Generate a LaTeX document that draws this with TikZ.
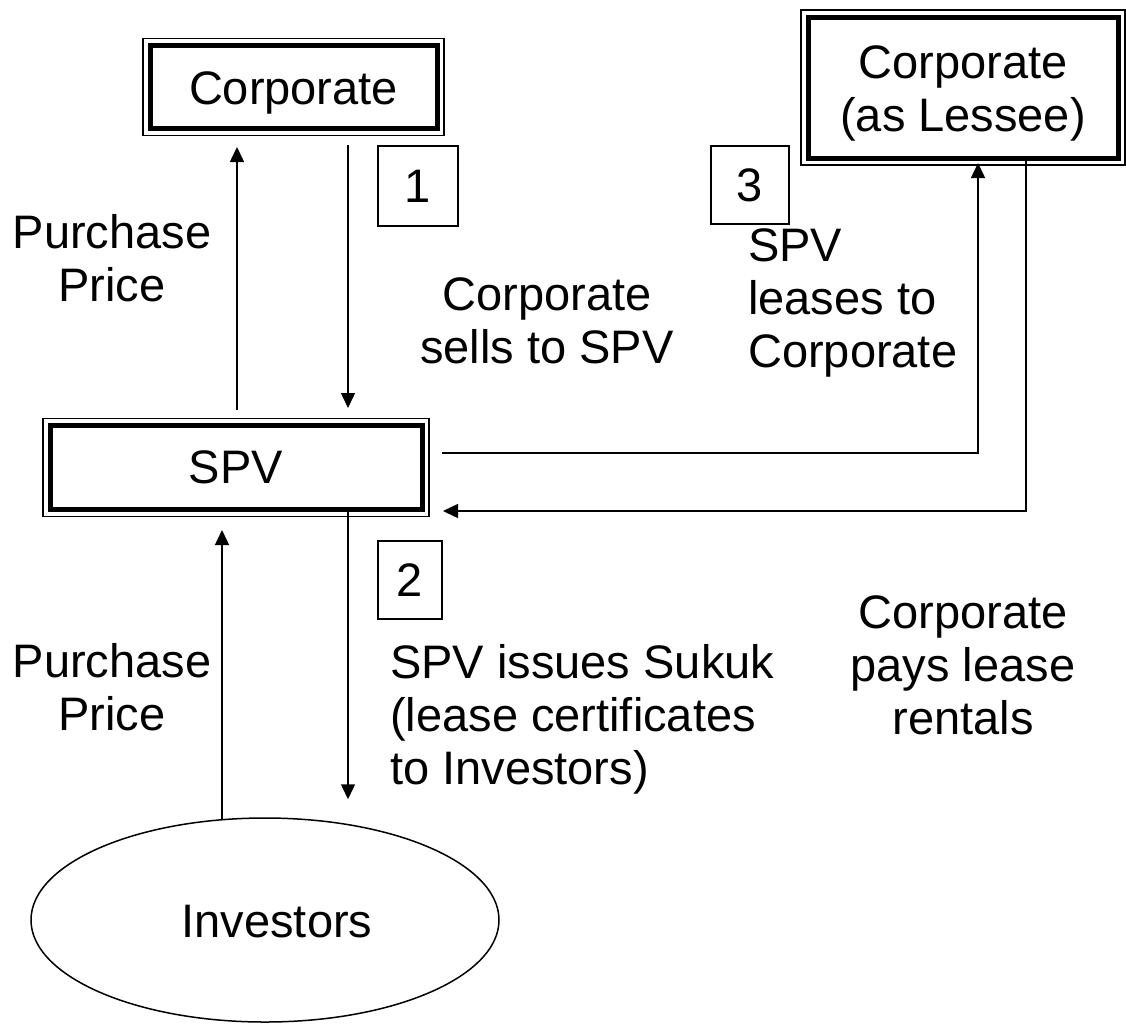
\documentclass[tikz,border=0pt]{standalone}
\usepackage{fontspec}
\setmainfont{Liberation Sans}
\usetikzlibrary{arrows.meta,shapes.geometric}

\begin{document}
\begin{tikzpicture}[x=1pt,y=1pt]

\tikzset{
  party/.style={
    draw,
    line width=5pt,
    outer sep=0pt,
    inner sep=0pt,
  },
  frame/.style={line width=1.5pt},
  stepnum/.style={
    draw,
    line width=1.5pt,
    outer sep=0pt,
    inner sep=0pt,
  },
  label/.style={align=center, inner sep=0pt},
  flow/.style={line width=1.5pt, -{Triangle[length=15pt,width=14pt]}},
}

\useasboundingbox (0,0) rectangle (1126,-1023);
\fontsize{47}{53}\selectfont

% Parties
\node[party, minimum width=287pt, minimum height=83pt] (corp) at (293.5,-87)
  {\raisebox{-6pt}[\height][\depth]{Corporate}};
\node[party, minimum width=310pt, minimum height=141pt] (lessee) at (963,-87.5)
  {\raisebox{-7pt}[\height][\depth]{\begin{tabular}{@{}c@{}}Corporate\\(as Lessee)\end{tabular}}};
\node[party, minimum width=372pt, minimum height=84pt] (spv) at (236,-467.5) {SPV};
\node[draw, ellipse, line width=1.5pt, minimum width=468pt, minimum height=204pt, inner sep=0pt] (inv) at (265,-920) {};
\node at (277,-922) {Investors};

% outer thin frames
\foreach \n in {corp,lessee,spv}
  \draw[frame] ([shift={(-7,7)}]\n.north west) rectangle ([shift={(7,-7)}]\n.south east);

% Step numbers
\node[stepnum, minimum width=80pt, minimum height=80pt] (num1) at (418,-186) {1};
\node[stepnum, minimum width=78pt, minimum height=78pt] (num3) at (750,-185) {3};
\node[stepnum, minimum width=64pt, minimum height=78pt] (num2) at (410,-580) {2};

% Labels
\node[label] (pp1) at (112,-258) {Purchase\\Price};
\node[label] (sell) at (547,-321) {Corporate\\sells to SPV};
\node[label, align=left, anchor=west] (lease) at (748,-303) {SPV\\leases to\\Corporate};
\node[label] (pays) at (963,-665) {Corporate\\pays lease\\rentals};
\node[label] (pp2) at (112,-687) {Purchase\\Price};
\node[label, align=left, anchor=west] (issue) at (390,-719) {SPV issues Sukuk\\(lease certificates\\to Investors)};

% Flows
\draw[flow] ([xshift=1pt,yshift=15.5pt]spv.north) -- ([xshift=-56.5pt,yshift=-18.5pt]corp.south);
\draw[flow] ([xshift=54.5pt,yshift=-16.5pt]corp.south) -- ([xshift=112pt,yshift=17.5pt]spv.north);
\draw[flow] ([xshift=20pt,yshift=14.5pt]spv.east) -| ([xshift=15pt,yshift=-5pt]lessee.south);
\draw[flow] ([xshift=63pt,yshift=-2pt]lessee.south) |- ([xshift=21pt,yshift=-43.5pt]spv.east);
\draw[flow] ([xshift=112pt]spv.south) -- ([xshift=83pt,yshift=18pt]inv.north);
\draw[flow] ([xshift=-43pt,yshift=-2pt]inv.north) -- ([xshift=-14pt,yshift=-20.5pt]spv.south);

\end{tikzpicture}
\end{document}
